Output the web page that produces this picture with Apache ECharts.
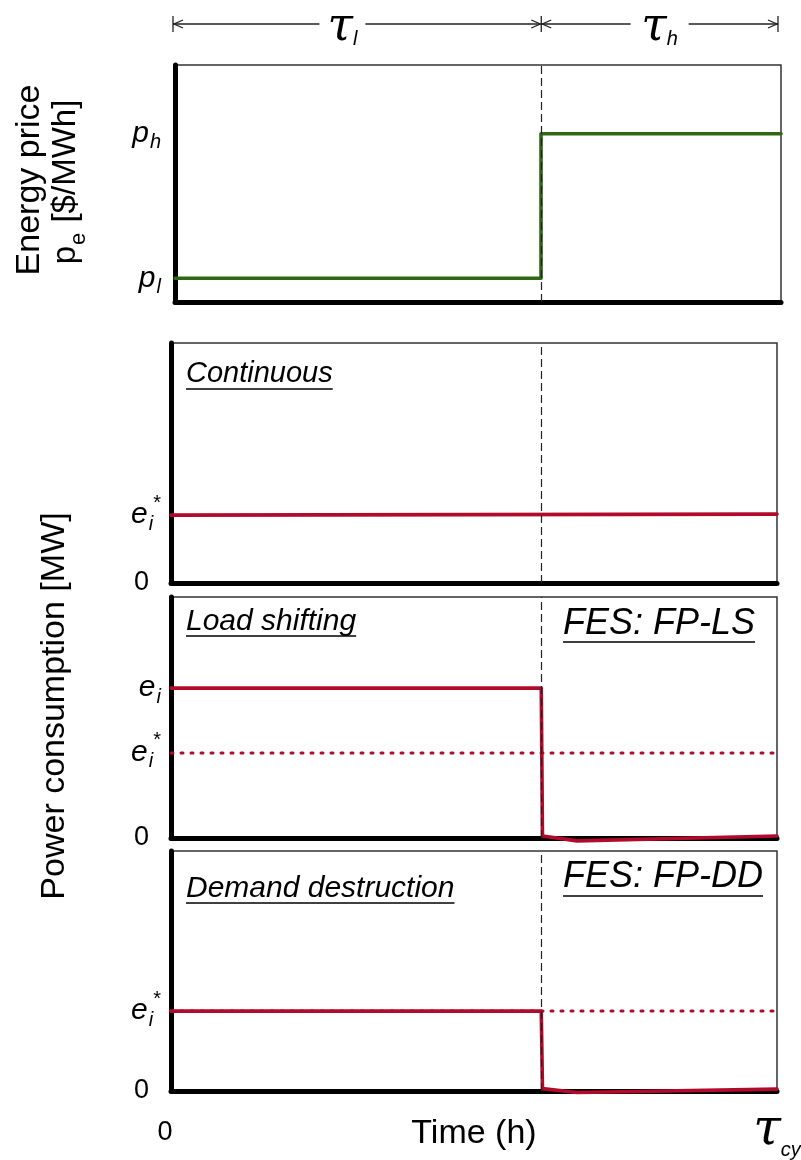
<!DOCTYPE html>
<html>
<head>
<meta charset="utf-8">
<script src="https://cdn.jsdelivr.net/npm/echarts@6/dist/echarts.min.js"></script>
<style>
  html, body { margin: 0; padding: 0; background: #fff; }
  #chart { width: 801px; height: 1160px; }
</style>
</head>
<body>
<div id="chart"></div>
<script>
// Time runs over one cycle, normalised so that tau_cy = 100.
const cycleEnd = 100;

// Energy price panel: p_l before the switch, p_h after it.
const priceSwitch = 60.4;
const priceTime = [0, 60.4, 60.4, 100];
const priceValues = [0.10, 0.10, 0.71, 0.71];
const priceTicks = [0.10, 0.71];
const priceTickLabels = ['{i|p}{s|l}', '{i|p}{s|h}'];

// Consumption panels switch at the same moment.
const loadSwitch = 61.1;

// Continuous operation: flat at e_i*.
const contTime = [0, 100];
const contValues = [0.283, 0.287];
const contTicks = [0, 0.283];
const contTickLabels = ['{z|0}', '{i|e}{s|i}{u|*}'];

// Load shifting: e_i during the cheap period, ~0 afterwards.
const lsTime = [0, 61.1, 61.3, 67, 100];
const lsValues = [0.622, 0.622, 0.008, -0.012, 0.008];
const lsReference = 0.353;
const lsTicks = [0, 0.353, 0.622];
const lsTickLabels = ['{z|0}', '{i|e}{s|i}{u|*}', '{i|e}{s|i}'];

// Demand destruction: e_i* during the cheap period, ~0 afterwards.
const ddTime = [0, 61.1, 61.3, 67, 100];
const ddValues = [0.333, 0.333, 0.01, -0.006, 0.008];
const ddReference = 0.333;
const ddTicks = [0, 0.333];
const ddTickLabels = ['{z|0}', '{i|e}{s|i}{u|*}'];

// Bottom time-axis labels.
const timeTicks = [0, 100];
const timeTickLabels = ['{z|0}', '{t|\u03C4}{c|cy}'];

const FONT = '"Liberation Sans", Arial, Helvetica, sans-serif';
const SERIF = '"DejaVu Serif", "Liberation Serif", serif';
const RED = '#b10a2b';
const GREEN = '#2e6814';

const zip = (xs, ys) => xs.map((x, i) => [x, ys[i]]);

// Every token is top-aligned; padding places subscripts below and stars above the letter.
const labelRich = {
  i: { fontFamily: FONT, fontStyle: 'italic', fontSize: 30, color: '#000', verticalAlign: 'top', padding: [9, 0, 9, 0] },
  s: { fontFamily: FONT, fontStyle: 'italic', fontSize: 20, color: '#000', verticalAlign: 'top', padding: [23, 0, 0, 1] },
  u: { fontFamily: FONT, fontSize: 20, color: '#000', verticalAlign: 'top', padding: [2, 0, 0, 0] },
  z: { fontFamily: FONT, fontSize: 27, color: '#000', padding: [0, 12, 0, 0] },
  t: { fontFamily: SERIF, fontStyle: 'italic', fontSize: 50, color: '#000', verticalAlign: 'top', padding: [0, 0, 0, 0] },
  c: { fontFamily: FONT, fontStyle: 'italic', fontSize: 20, color: '#000', verticalAlign: 'top', padding: [34, 0, 0, 0] },
  T: { fontFamily: SERIF, fontStyle: 'italic', fontSize: 46, color: '#000', verticalAlign: 'top', padding: [0, 0, 0, 0] },
  d: { fontFamily: FONT, fontStyle: 'italic', fontSize: 20, color: '#000', verticalAlign: 'top', padding: [24, 0, 0, 0] }
};

function pickLabel(ticks, labels) {
  return v => {
    const k = ticks.findIndex(t => Math.abs(t - v) < 1e-6);
    return k >= 0 ? labels[k] : '';
  };
}

const axisLine = { show: true, onZero: false, lineStyle: { color: '#000', width: 5 } };

function xAxisFor(i, extra) {
  return Object.assign({
    type: 'value', gridIndex: i, min: 0, max: cycleEnd,
    axisLine: axisLine, axisTick: { show: false }, splitLine: { show: false },
    axisLabel: { show: false }
  }, extra || {});
}

function yAxisFor(i, ticks, labels, margin) {
  return {
    type: 'value', gridIndex: i, min: 0, max: 1,
    axisLine: axisLine, axisTick: { show: false }, splitLine: { show: false },
    axisLabel: {
      show: true, customValues: ticks, margin: margin,
      formatter: pickLabel(ticks, labels), rich: labelRich
    }
  };
}

function mainLine(i, data, color) {
  return {
    type: 'line', xAxisIndex: i, yAxisIndex: i, data: data,
    symbol: 'none', clip: false, z: 4, silent: true,
    lineStyle: { color: color, width: 3.6, cap: 'round', join: 'round' }
  };
}

function dottedLine(i, value) {
  return {
    type: 'line', xAxisIndex: i, yAxisIndex: i,
    data: [[0, value], [cycleEnd, value]],
    symbol: 'none', z: 3, silent: true,
    lineStyle: { color: RED, width: 3, type: [2, 8], cap: 'round' }
  };
}

function switchMarker(i, t) {
  return {
    type: 'line', xAxisIndex: i, yAxisIndex: i,
    data: [[t, 0]], symbol: 'none', z: 1, silent: true,
    lineStyle: { opacity: 0 },
    markLine: {
      silent: true, symbol: ['none', 'none'], label: { show: false },
      lineStyle: { color: '#222', width: 1.2, type: [8, 4] },
      data: [{ xAxis: t }]
    }
  };
}

const gridStyle = {
  show: true, borderColor: '#333', borderWidth: 1.5, backgroundColor: 'transparent',
  outerBoundsMode: 'none', containLabel: false
};

const option = {
  animation: false,
  backgroundColor: '#fff',
  grid: [
    Object.assign({ left: 175, right: 20, top: 65, height: 237 }, gridStyle),
    Object.assign({ left: 171, right: 24, top: 343, height: 240 }, gridStyle),
    Object.assign({ left: 171, right: 24, top: 597, height: 241 }, gridStyle),
    Object.assign({ left: 171, right: 24, top: 851, height: 240 }, gridStyle)
  ],
  xAxis: [
    xAxisFor(0), xAxisFor(1), xAxisFor(2),
    xAxisFor(3, {
      axisLabel: {
        show: true, customValues: timeTicks, margin: 42, verticalAlign: 'middle',
        formatter: pickLabel(timeTicks, timeTickLabels), rich: labelRich
      },
      name: 'Time (h)', nameLocation: 'middle', nameGap: 26, nameMoveOverlap: false,
      nameTextStyle: { fontFamily: FONT, fontSize: 34, color: '#000', verticalAlign: 'top' }
    })
  ],
  yAxis: [
    yAxisFor(0, priceTicks, priceTickLabels, 14),
    yAxisFor(1, contTicks, contTickLabels, 10),
    yAxisFor(2, lsTicks, lsTickLabels, 10),
    yAxisFor(3, ddTicks, ddTickLabels, 10)
  ],
  series: [
    switchMarker(0, priceSwitch), mainLine(0, zip(priceTime, priceValues), GREEN),
    switchMarker(1, loadSwitch), mainLine(1, zip(contTime, contValues), RED),
    switchMarker(2, loadSwitch), dottedLine(2, lsReference), mainLine(2, zip(lsTime, lsValues), RED),
    switchMarker(3, loadSwitch), dottedLine(3, ddReference), mainLine(3, zip(ddTime, ddValues), RED)
  ]
};

const chart = echarts.init(document.getElementById('chart'));
chart.setOption(option);

// ---- annotations: period arrows, panel captions, axis titles ----
const measure = (() => {
  const ctx = document.createElement('canvas').getContext('2d');
  return (text, font) => { ctx.font = font; return ctx.measureText(text).width; };
})();

const px = v => chart.convertToPixel({ xAxisIndex: 1 }, v);
const x0 = px(0) + 2, xs = px(loadSwitch), xe = px(cycleEnd) + 1;
const arrowY = 24;
const stroke = { stroke: '#222', lineWidth: 1.3, fill: null };
const g = [];

function bar(x) {
  g.push({ type: 'line', shape: { x1: x, y1: arrowY - 8, x2: x, y2: arrowY + 8 }, style: stroke });
}
function head(x, dir) {
  g.push({ type: 'polyline', shape: { points: [[x + dir * 9, arrowY - 4], [x, arrowY], [x + dir * 9, arrowY + 4]] }, style: stroke });
}
function span(a, b, gapCenter, gapWidth, label) {
  g.push({ type: 'line', shape: { x1: a, y1: arrowY, x2: gapCenter - gapWidth / 2, y2: arrowY }, style: stroke });
  g.push({ type: 'line', shape: { x1: gapCenter + gapWidth / 2, y1: arrowY, x2: b, y2: arrowY }, style: stroke });
  head(a + 1, 1); head(b - 1, -1);
  g.push({
    type: 'text', x: gapCenter, y: arrowY + 4,
    style: { text: label, rich: labelRich, align: 'center', verticalAlign: 'middle' }
  });
}
bar(x0); bar(xs); bar(xe);
span(x0, xs, x0 + (xs - x0) * 0.46, 46, '{T|\u03C4}{d|l}');
span(xs, xe, xs + (xe - xs) * 0.5, 58, '{T|\u03C4}{d|h}');

function caption(text, x, yMid, size, yLine) {
  const font = 'italic ' + size + 'px ' + FONT;
  const w = measure(text, font);
  g.push({
    type: 'text', x: x, y: yMid,
    style: { text: text, fontFamily: FONT, fontStyle: 'italic', fontSize: size, fill: '#000', align: 'left', verticalAlign: 'middle' }
  });
  g.push({ type: 'line', shape: { x1: x, y1: yLine, x2: x + w, y2: yLine }, style: { stroke: '#000', lineWidth: 1.6 } });
}
caption('Continuous', 186, 374, 29, 389);
caption('Load shifting', 186, 622, 30, 636);
caption('Demand destruction', 186, 889, 30, 903);
caption('FES: FP-LS', 563, 624, 36, 642);
caption('FES: FP-DD', 563, 877, 36, 896);

function vTitle(text, x, y, rich) {
  g.push({
    type: 'text', x: x, y: y, rotation: Math.PI / 2,
    style: { text: text, rich: rich, fontFamily: FONT, fontSize: 34, fill: '#000', align: 'center', verticalAlign: 'middle' }
  });
}
const titleRich = {
  n: { fontFamily: FONT, fontSize: 33, color: '#000', verticalAlign: 'top', padding: [0, 0, 8, 0] },
  b: { fontFamily: FONT, fontSize: 22, color: '#000', verticalAlign: 'top', padding: [18, 1, 0, 1] }
};
vTitle('Energy price', 30, 180);
vTitle('{n|p}{b|e}{n| [$/MWh]}', 70, 182, titleRich);
vTitle('Power consumption [MW]', 55, 706);

chart.setOption({ graphic: g });
</script>
</body>
</html>
